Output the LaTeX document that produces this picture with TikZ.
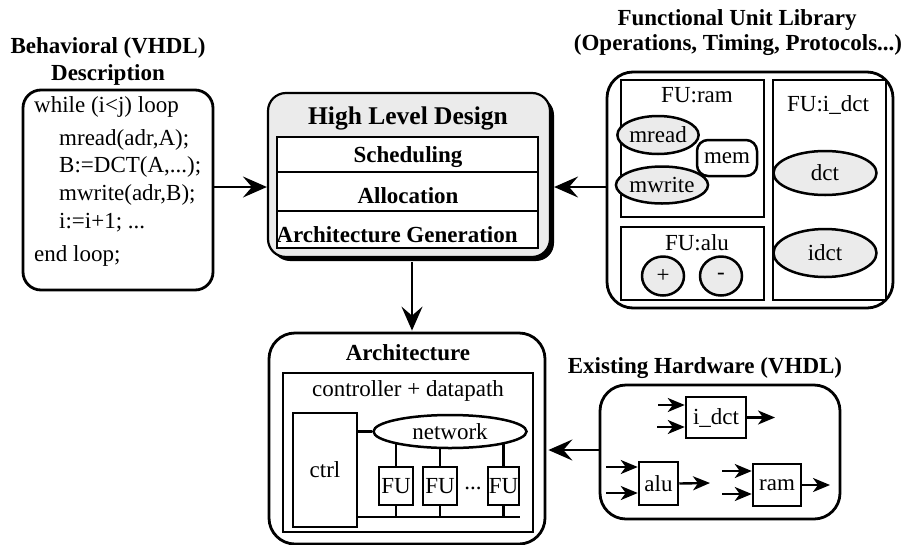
\documentclass[tikz,border=0pt]{standalone}
\usepackage{fontspec}
\setmainfont{Liberation Serif}
\usetikzlibrary{arrows.meta,shapes.geometric,shadows}
\pgfdeclarelayer{bg}
\pgfsetlayers{bg,main}

\begin{document}
\begin{tikzpicture}[x=1pt,y=-1pt,
  txtrm/.style={font=\fontsize{23}{27}\selectfont},
  txtbf/.style={font=\fontsize{23}{27}\selectfont\bfseries},
  txtbig/.style={font=\fontsize{25.5}{30}\selectfont\bfseries},
  codeline/.style={txtrm, anchor=west, inner sep=0pt, text height=15pt, text depth=5pt},
  roundbox/.style={draw, line width=2.8pt, rounded corners=18pt, inner sep=0pt},
  rectbox/.style={draw, line width=2.5pt, inner sep=0pt, fill=white},
  dotfill/.style={fill=black!8},
  oval/.style={ellipse, draw, line width=2.5pt, inner sep=0pt, dotfill, txtrm},
  arr/.style={line width=2.2pt, -{Stealth[length=24pt,width=21pt,inset=9pt]}},
  wire/.style={line width=2.4pt, -{Stealth[length=17pt,width=14pt,inset=5pt]}},
  link/.style={line width=2.4pt},
]
\useasboundingbox (0,0) rectangle (901,544);
\clip (0,0) rectangle (901,544);

% ---------------- behavioural description ----------------
\node[txtbf] (behavt1) at (108,48) {Behavioral (VHDL)};
\node[txtbf] (behavt2) at (108,75) {Description};
\node[roundbox, minimum width=190pt, minimum height=200pt] (behav) at (118,190) {};
\node[codeline] (c1) at (34,107) {while (i<j) loop};
\node[codeline] (c2) at (59,140) {mread(adr,A);};
\node[codeline] (c3) at (59,167) {B:=DCT(A,...);};
\node[codeline] (c4) at (59,195) {mwrite(adr,B);};
\node[codeline] (c5) at (59,223) {i:=i+1; ...};
\node[codeline] (c6) at (34,256) {end loop;};

% ---------------- high level design ----------------
\node[roundbox, line width=2.2pt, dotfill, minimum width=282pt, minimum height=164pt,
      drop shadow={shadow xshift=4pt, shadow yshift=-4pt, fill=black, opacity=1}]
      (hld) at (409,175) {};
\node[txtbig] (hldt) at (408,118) {High Level Design};
\node[rectbox, minimum width=261pt, minimum height=35pt] (sched) at (407.5,154.5) {};
\node[rectbox, minimum width=261pt, minimum height=39pt] (alloc) at (407.5,191.5) {};
\node[rectbox, minimum width=261pt, minimum height=37pt] (archgen) at (407.5,229.5) {};
\node[txtbf] (schedt) at (408,157) {Scheduling};
\node[txtbf] (alloct) at (408,196) {Allocation};
\node[txtbf] (archgent) at (397,235) {Architecture Generation};

% ---------------- functional unit library ----------------
\node[txtbf] (fult1) at (737,20) {Functional Unit Library};
\node[txtbf] (fult2) at (738,45) {(Operations, Timing, Protocols...)};
\node[roundbox, rounded corners=26pt, minimum width=286pt, minimum height=236pt] (fulib) at (750,190) {};
\node[rectbox, minimum width=143pt, minimum height=137pt] (furam) at (692.5,148.5) {};
\node[rectbox, minimum width=143pt, minimum height=73pt] (fualu) at (692.5,263.5) {};
\node[rectbox, minimum width=113pt, minimum height=220pt] (fuidct) at (829.5,190) {};
\node[txtrm] (furamt) at (697,95) {FU:ram};
\node[txtrm] (fualut) at (697,243) {FU:alu};
\node[txtrm] (fuidctt) at (828,105) {FU:i\_dct};
\node[oval, minimum width=70pt, minimum height=38pt] (mread) at (658,135) {mread};
\node[oval, minimum width=78pt, minimum height=37pt] (mwrite) at (662,185) {mwrite};
\node[rectbox, rounded corners=11pt, txtrm, minimum width=60pt, minimum height=36pt] (mem) at (727,158) {mem};
\node[oval, minimum width=42pt, minimum height=39pt] (plus) at (663,276) {+};
\node[oval, minimum width=42pt, minimum height=39pt] (minus) at (721,276) {-};
\node[oval, minimum width=103pt, minimum height=44pt] (dct) at (825,173) {dct};
\node[oval, minimum width=103pt, minimum height=48pt] (idct) at (825,253) {idct};

% ---------------- architecture ----------------
\node[roundbox, rounded corners=26pt, minimum width=276pt, minimum height=211pt] (arch) at (407,438.5) {};
\node[txtbf] (archt) at (408,353) {Architecture};
\node[rectbox, fill=none, minimum width=250pt, minimum height=159pt] (cdp) at (408,452.5) {};
\node[txtrm] (cdpt) at (408,391) {controller + datapath};
\node[rectbox, txtrm, minimum width=64pt, minimum height=114pt] (ctrl) at (325,470) {ctrl};
\node[ellipse, draw, line width=2.5pt, fill=white, inner sep=0pt, txtrm,
      minimum width=153pt, minimum height=33pt] (net) at (450,431.5) {network};
\node[rectbox, txtrm, minimum width=34pt, minimum height=38pt] (fu1) at (396,486) {FU};
\node[rectbox, txtrm, minimum width=34pt, minimum height=38pt] (fu2) at (440,486) {FU};
\node[rectbox, txtrm, minimum width=31pt, minimum height=38pt] (fu3) at (503.5,486) {FU};
\node[txtrm] (dots) at (473,488) {...};
\coordinate (busy) at (0,517);
\begin{pgfonlayer}{bg}
  \draw[link] (ctrl.east |- net.west) -- (net.west);
  \foreach \f in {fu1,fu2,fu3}{
    \draw[link] (\f.north) -- (\f.north |- net.center);
    \draw[link] (\f.south) -- (\f.south |- busy);
  }
  \draw[link] (ctrl.east |- busy) -- (fu3.south east |- busy);
\end{pgfonlayer}

% ---------------- existing hardware ----------------
\node[txtbf] (hwt) at (705,368) {Existing Hardware (VHDL)};
\node[roundbox, rounded corners=26pt, minimum width=240pt, minimum height=134pt] (hw) at (720,452) {};
\node[rectbox, txtrm, minimum width=60pt, minimum height=41pt] (idctb) at (716,417.5) {i\_dct};
\node[rectbox, txtrm, minimum width=39pt, minimum height=43pt] (alub) at (658.5,483.5) {alu};
\node[rectbox, txtrm, minimum width=48pt, minimum height=42pt] (ramb) at (777,485) {ram};
\coordinate (ia1) at (658,405);
\coordinate (ia2) at (657,427);
\coordinate (io) at (775,417.5);
\coordinate (aa1) at (606,467);
\coordinate (aa2) at (606,493);
\coordinate (ao) at (710,483);
\coordinate (ra1) at (722,471);
\coordinate (ra2) at (722,494);
\coordinate (ro) at (830,485);
\draw[wire] (ia1) -- (ia1 -| idctb.west);
\draw[wire] (ia2) -- (ia2 -| idctb.west);
\draw[wire] (idctb.east) -- (io);
\draw[wire] (aa1) -- (aa1 -| alub.west);
\draw[wire] (aa2) -- (aa2 -| alub.west);
\draw[wire] (alub.east) -- (ao);
\draw[wire] (ra1) -- (ra1 -| ramb.west);
\draw[wire] (ra2) -- (ra2 -| ramb.west);
\draw[wire] (ramb.east) -- (ro);

% ---------------- main flow ----------------
\draw[arr] (behav.east |- 0,187) -- (hld.west |- 0,187);
\draw[arr] (fulib.west |- 0,187) -- ([xshift=3pt]hld.east |- 0,187);
\draw[arr] ([xshift=3pt,yshift=-4pt]hld.south) -- ([xshift=3pt,yshift=1pt]hld.south |- arch.north);
\draw[arr] (hw.west |- 0,450) -- ([xshift=2pt]arch.east |- 0,450);
\end{tikzpicture}
\end{document}
